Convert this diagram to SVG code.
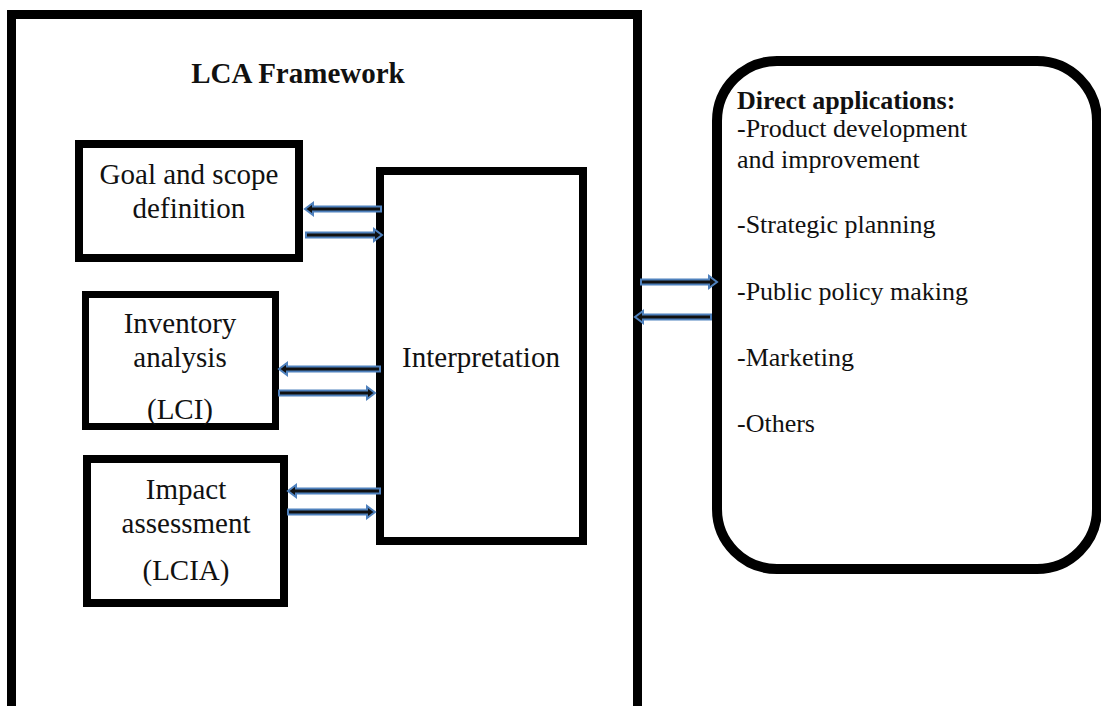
<svg xmlns="http://www.w3.org/2000/svg" width="1101" height="706" viewBox="0 0 1101 706">
  <style>
    .box { fill: #ffffff; stroke: #000000; }
    .lbl { font-family: "Liberation Serif", "Times New Roman", serif; font-size: 29px; fill: #111111; text-anchor: middle; }
    .side { font-family: "Liberation Serif", "Times New Roman", serif; font-size: 26px; fill: #111111; }
    .bold { font-weight: bold; }
    .arrow { fill: #111111; stroke: #4F81BD; stroke-width: 2; stroke-linejoin: miter; }
  </style>
  <rect width="1101" height="706" fill="#ffffff"/>

  <!-- LCA framework container -->
  <g id="lca-framework">
    <rect class="box" x="11.5" y="14.5" width="626" height="720" stroke-width="9"/>
    <text class="lbl bold" x="298" y="83" font-size="24">LCA Framework</text>
  </g>

  <g id="goal-scope">
    <rect class="box" x="79" y="144" width="220" height="114" stroke-width="8"/>
    <text class="lbl" x="189" y="184" font-size="30">Goal and scope</text>
    <text class="lbl" x="189" y="218" font-size="30">definition</text>
  </g>

  <g id="inventory">
    <rect class="box" x="85.5" y="294.5" width="190" height="132" stroke-width="7"/>
    <text class="lbl" x="180" y="333">Inventory</text>
    <text class="lbl" x="180" y="367">analysis</text>
    <text class="lbl" x="180" y="419">(LCI)</text>
  </g>

  <g id="impact">
    <rect class="box" x="87" y="459" width="197" height="144" stroke-width="8"/>
    <text class="lbl" x="186" y="499">Impact</text>
    <text class="lbl" x="186" y="533">assessment</text>
    <text class="lbl" x="186" y="580">(LCIA)</text>
  </g>

  <g id="interpretation">
    <rect class="box" x="380" y="171" width="203" height="370" stroke-width="8"/>
    <text class="lbl" x="481" y="367" font-size="31">Interpretation</text>
  </g>

  <g id="applications">
    <rect class="box" x="717" y="61" width="380" height="508" rx="60" ry="60" stroke-width="10"/>
    <text class="side bold" x="737" y="109">Direct applications:</text>
    <text class="side" x="737" y="137">-Product development</text>
    <text class="side" x="737" y="168">and improvement</text>
    <text class="side" x="737" y="233">-Strategic planning</text>
    <text class="side" x="737" y="300">-Public policy making</text>
    <text class="side" x="737" y="366">-Marketing</text>
    <text class="side" x="737" y="432">-Others</text>
  </g>

  <!-- double arrows between stages and interpretation -->
  <g id="connectors">
    <path class="arrow" d="M381,206.5 L313,206.5 L313,203 L305,209 L313,215 L313,211.5 L381,211.5 Z"/>
    <path class="arrow" d="M306,232.5 L374,232.5 L374,229 L382,235 L374,241 L374,237.5 L306,237.5 Z"/>
    <path class="arrow" d="M380,366.5 L287,366.5 L287,363 L279,369 L287,375 L287,371.5 L380,371.5 Z"/>
    <path class="arrow" d="M279,390.5 L367,390.5 L367,387 L375,393 L367,399 L367,395.5 L279,395.5 Z"/>
    <path class="arrow" d="M380,488.5 L296,488.5 L296,485 L288,491 L296,497 L296,493.5 L380,493.5 Z"/>
    <path class="arrow" d="M288,509.5 L367,509.5 L367,506 L375,512 L367,518 L367,514.5 L288,514.5 Z"/>
    <path class="arrow" d="M641,279.5 L709,279.5 L709,276 L717,282 L709,288 L709,284.5 L641,284.5 Z"/>
    <path class="arrow" d="M711,314.5 L643,314.5 L643,311 L635,317 L643,323 L643,319.5 L711,319.5 Z"/>
  </g>
</svg>
